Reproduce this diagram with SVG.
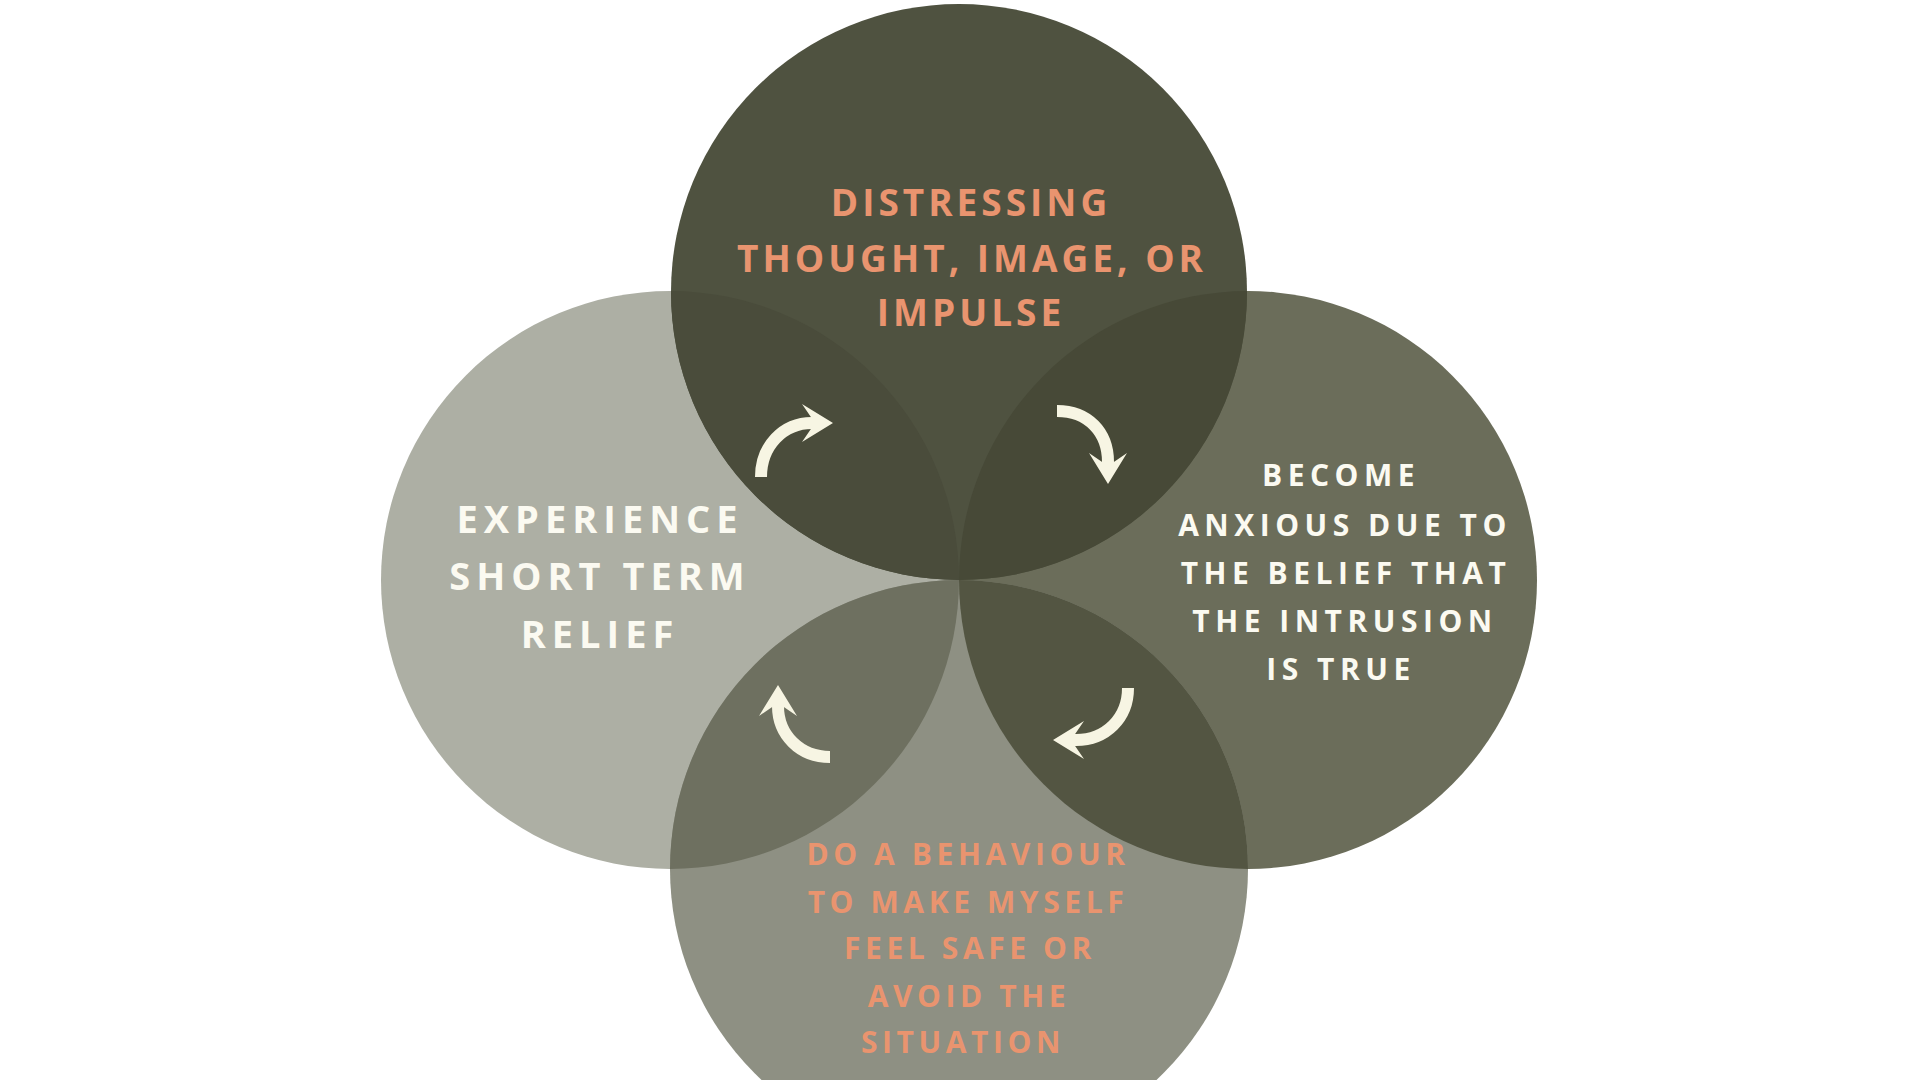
<svg xmlns="http://www.w3.org/2000/svg" width="1920" height="1080" viewBox="0 0 1920 1080">
<style>
.t{font-family:"Open Sans","Liberation Sans",sans-serif;font-weight:700;text-anchor:middle}
.or{fill:#e9946f}
.wh{fill:#fbfaf1}
.shaft{fill:none;stroke:#f7f5e3;stroke-width:12;stroke-linecap:butt}
.head{fill:#f7f5e3}
</style>
<defs>
<clipPath id="cTop"><circle cx="959" cy="292" r="288"/></clipPath>
<clipPath id="cBot"><circle cx="959" cy="869" r="289"/></clipPath>
</defs>
<rect width="1920" height="1080" fill="#ffffff"/>
<g id="node-left"><circle cx="670" cy="580" r="289" fill="#adafa4"/></g>
<g id="node-right"><circle cx="1248" cy="580" r="289" fill="#6b6d5a"/></g>
<g id="node-bottom"><circle cx="959" cy="869" r="289" fill="#8e9083"/></g>
<g id="node-top"><circle cx="959" cy="292" r="288" fill="#4f5240"/></g>
<g id="overlaps">
<circle cx="670" cy="580" r="289" fill="#4a4c3b" clip-path="url(#cTop)"/>
<circle cx="1248" cy="580" r="289" fill="#474937" clip-path="url(#cTop)"/>
<circle cx="670" cy="580" r="289" fill="#6e7060" clip-path="url(#cBot)"/>
<circle cx="1248" cy="580" r="289" fill="#535542" clip-path="url(#cBot)"/>
</g>
<g id="label-top" class="t or" font-size="37" letter-spacing="4">
<text x="971" y="216">DISTRESSING</text>
<text x="972" y="272">THOUGHT, IMAGE, OR</text>
<text x="971" y="326">IMPULSE</text>
</g>
<g id="label-right" class="t wh" font-size="30" letter-spacing="5.5">
<text x="1341" y="486">BECOME</text>
<text x="1345" y="536">ANXIOUS DUE TO</text>
<text x="1346" y="584">THE BELIEF THAT</text>
<text x="1345" y="632">THE INTRUSION</text>
<text x="1341" y="680">IS TRUE</text>
</g>
<g id="label-left" class="t wh" font-size="38" letter-spacing="6">
<text x="600" y="533">EXPERIENCE</text>
<text x="600" y="590">SHORT TERM</text>
<text x="600" y="648">RELIEF</text>
</g>
<g id="label-bottom" class="t or" font-size="30" letter-spacing="4.6">
<text x="968" y="865">DO A BEHAVIOUR</text>
<text x="968" y="913">TO MAKE MYSELF</text>
<text x="970" y="959">FEEL SAFE OR</text>
<text x="969" y="1007">AVOID THE</text>
<text x="963" y="1053">SITUATION</text>
</g>
<g id="connectors">
<path class="shaft" d="M761,477 C761,446 783,423 812,423 L820,423"/>
<polygon class="head" points="833,423 802,404 815,423 802,442"/>
<path class="shaft" d="M1057,411 C1088,411 1108,432 1108,462 L1108,470"/>
<polygon class="head" points="1108,484 1089,453 1108,466 1127,453"/>
<path class="shaft" d="M1128,688 C1128,718 1106,740 1076,740 L1066,740"/>
<polygon class="head" points="1053,740 1084,721 1071,740 1084,759"/>
<path class="shaft" d="M830,757 C800,757 778,735 778,706 L778,698"/>
<polygon class="head" points="778,685 759,716 778,703 797,716"/>
</g>
</svg>
